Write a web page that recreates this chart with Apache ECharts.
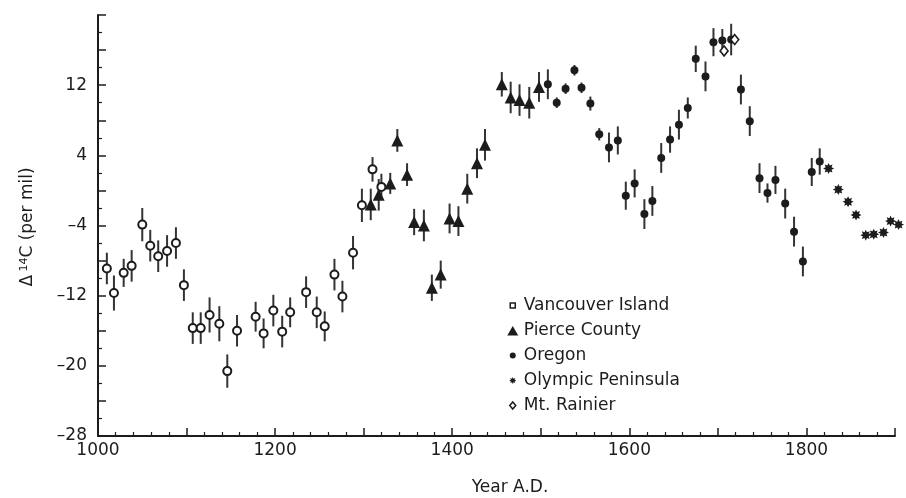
<!DOCTYPE html>
<html><head><meta charset="utf-8">
<script src="https://cdn.jsdelivr.net/npm/echarts@6/dist/echarts.min.js"></script>
<style>html,body{margin:0;padding:0;background:#fff}#c{width:906px;height:498px}</style>
</head><body><div id="c"></div>
<script>
// ---- data ----
const vancouverYear = [1010,1018,1029,1038,1050,1059,1068,1078,1088,1097,1107,1116,1126,1137,1146,1157,1178,1187,1198,1208,1217,1235,1247,1256,1267,1276,1288,1298,1310,1320];
const vancouverD14C = [-8.9,-11.7,-9.4,-8.6,-3.9,-6.3,-7.5,-6.9,-6.0,-10.8,-15.7,-15.7,-14.2,-15.2,-20.6,-16.0,-14.4,-16.3,-13.7,-16.1,-13.9,-11.6,-13.9,-15.5,-9.6,-12.1,-7.1,-1.7,2.4,0.4];
const vancouverErr  = [1.8,2,1.6,1.8,1.9,1.8,1.8,1.8,1.8,1.8,1.8,1.8,2,2,1.9,1.8,1.7,1.7,1.8,1.8,1.7,1.8,1.8,1.7,1.8,1.8,1.9,1.9,1.4,1.5];

const pierceYear = [1308,1317,1330,1338,1349,1357,1368,1377,1387,1397,1407,1417,1428,1437,1456,1466,1476,1487,1498];
const pierceD14C = [-1.6,-0.5,0.8,5.7,1.8,-3.6,-4.0,-11.1,-9.6,-3.2,-3.5,0.2,3.1,5.2,12.1,10.6,10.3,10.0,11.8];
const pierceErr  = [1.8,1.8,1.2,1.3,1.3,1.5,1.8,1.5,1.6,1.7,1.7,1.7,1.7,1.8,1.4,1.8,1.8,1.8,1.7];

const oregonYear = [1508,1518,1528,1538,1546,1556,1566,1577,1587,1596,1606,1617,1626,1636,1646,1656,1666,1675,1686,1695,1705,1715,1726,1736,1747,1756,1765,1776,1786,1796,1806,1815];
const oregonD14C = [12.1,10.0,11.6,13.7,11.7,9.9,6.4,4.9,5.7,-0.6,0.8,-2.7,-1.2,3.7,5.8,7.5,9.4,15.0,13.0,16.9,17.1,17.2,11.5,7.9,1.4,-0.3,1.2,-1.5,-4.7,-8.1,2.1,3.3];
const oregonErr  = [1.7,0.6,0.6,0.6,0.6,0.8,0.7,1.7,1.6,1.6,1.6,1.7,1.7,1.7,1.5,1.7,1.2,1.5,1.7,1.6,1.3,1.8,1.7,1.7,1.7,1.1,1.6,1.7,1.7,1.7,1.6,1.5];

const olympicYear = [1825,1836,1847,1856,1867,1876,1887,1895,1904];
const olympicD14C = [2.5,0.1,-1.3,-2.8,-5.1,-5.0,-4.8,-3.5,-3.9];

const rainierYear = [1707,1719];
const rainierD14C = [15.9,17.2];

const seriesNames = ['Vancouver Island','Pierce County','Oregon','Olympic Peninsula','Mt. Rainier'];
const xTicks = {min:1000, max:1900, interval:100};
const yTicks = {min:-28, max:20, interval:4};

// ---- build ----
const INK = '#1c1c1c';
const FONT = 'DejaVu Sans';
function pts(xs, ys){ return xs.map((x,i)=>[x, ys[i]]); }
function bars(xs, ys, es){ return xs.map((x,i)=>[x, ys[i]-es[i], ys[i]+es[i]]); }
function starPath(n, ro, ri, c){
  let d='';
  for(let i=0;i<2*n;i++){
    const r = i%2===0?ro:ri, a = Math.PI*i/n - Math.PI/2;
    d += (i===0?'M':'L') + (c+r*Math.cos(a)).toFixed(2) + ',' + (c+r*Math.sin(a)).toFixed(2);
  }
  return d+'Z';
}
const starSym = 'path://' + starPath(8, 5, 2.9, 5);
const pad = 'path://M0,0M12,12';

const errData = [].concat(
  bars(vancouverYear, vancouverD14C, vancouverErr),
  bars(pierceYear, pierceD14C, pierceErr),
  bars(oregonYear, oregonD14C, oregonErr)
);

function dashMinus(v){ return v<0 ? '\u2013'+Math.abs(v) : String(v); }

const chart = echarts.init(document.getElementById('c'));
chart.setOption({
  animation:false,
  backgroundColor:'#fff',
  grid:{left:98, right:11, top:15, bottom:62},
  xAxis:{
    type:'value', min:xTicks.min, max:xTicks.max, interval:xTicks.interval,
    axisLine:{show:true, onZero:false, lineStyle:{color:INK, width:2}},
    axisTick:{show:true, inside:true, length:8, lineStyle:{color:INK, width:1.5}},
    minorTick:{show:true, splitNumber:5, length:4, lineStyle:{color:INK, width:1.2}},
    splitLine:{show:false},
    axisLabel:{margin:6, color:INK, fontFamily:FONT, fontSize:17,
      formatter:v=> (v%200===0 && v<1900) ? String(v) : ''}
  },
  yAxis:{
    type:'value', min:yTicks.min, max:yTicks.max, interval:yTicks.interval,
    axisLine:{show:true, onZero:false, lineStyle:{color:INK, width:2}},
    axisTick:{show:true, inside:true, length:8, lineStyle:{color:INK, width:1.5}},
    minorTick:{show:true, splitNumber:2, length:4, lineStyle:{color:INK, width:1.2}},
    splitLine:{show:false},
    axisLabel:{margin:11, color:INK, fontFamily:FONT, fontSize:17,
      formatter:v=> (v===20 || (v+28)%8!==0) ? '' : dashMinus(v)}
  },
  legend:{
    orient:'vertical', left:501, top:292, itemWidth:12, itemHeight:12, itemGap:8,
    symbolKeepAspect:true,
    textStyle:{color:INK, fontFamily:FONT, fontSize:17},
    data:[
      {name:seriesNames[0], icon:pad+'M3.5,3.5L8.5,3.5L8.5,8.5L3.5,8.5Z', itemStyle:{color:'#fff', borderColor:INK, borderWidth:1.5}},
      {name:seriesNames[1], icon:pad+'M6,1.5L11.5,11L0.5,11Z', itemStyle:{color:INK}},
      {name:seriesNames[2], icon:pad+'M9,6A3,3,0,1,1,3,6A3,3,0,1,1,9,6Z', itemStyle:{color:INK}},
      {name:seriesNames[3], icon:pad+starPath(8,3.6,2.0,6), itemStyle:{color:INK}},
      {name:seriesNames[4], icon:pad+'M6,2.5L9,6L6,9.5L3,6Z', itemStyle:{color:'#fff', borderColor:INK, borderWidth:1.5}}
    ]
  },
  graphic:[
    {type:'text', x:28, y:227, rotation:Math.PI/2,
      style:{text:'{a|\u0394} {s|14}{a|C (per mil)}', align:'center', verticalAlign:'middle', fill:INK,
        rich:{a:{fontFamily:FONT, fontSize:17, fill:INK}, s:{fontFamily:FONT, fontSize:11, fill:INK, padding:[0,0,8,0]}}}},
    {type:'text', x:510, y:488,
      style:{text:'Year A.D.', align:'center', verticalAlign:'middle', fill:INK, fontFamily:FONT, fontSize:17}}
  ],
  series:[
    {type:'custom', name:'err', z:1, silent:true, data:errData, encode:{x:0, y:[1,2]},
      renderItem:(params, api)=>{
        const a = api.coord([api.value(0), api.value(1)]);
        const b = api.coord([api.value(0), api.value(2)]);
        return {type:'line', shape:{x1:a[0], y1:a[1], x2:b[0], y2:b[1]}, style:{stroke:'#333', lineWidth:2}};
      }},
    {type:'scatter', name:seriesNames[0], z:3, data:pts(vancouverYear, vancouverD14C), symbol:'circle', symbolSize:8,
      itemStyle:{color:'#fff', borderColor:INK, borderWidth:2, opacity:1}},
    {type:'scatter', name:seriesNames[1], z:3, data:pts(pierceYear, pierceD14C), symbol:'triangle', symbolSize:12,
      itemStyle:{color:INK, opacity:1}},
    {type:'scatter', name:seriesNames[2], z:3, data:pts(oregonYear, oregonD14C), symbol:'circle', symbolSize:8,
      itemStyle:{color:INK, opacity:1}},
    {type:'scatter', name:seriesNames[3], z:3, clip:false, data:pts(olympicYear, olympicD14C), symbol:starSym, symbolSize:11,
      itemStyle:{color:INK, opacity:1}},
    {type:'scatter', name:seriesNames[4], z:4, data:pts(rainierYear, rainierD14C), symbol:'diamond', symbolSize:[8,10],
      itemStyle:{color:'#fff', borderColor:INK, borderWidth:1.6, opacity:1}}
  ]
});
</script>
</body></html>
